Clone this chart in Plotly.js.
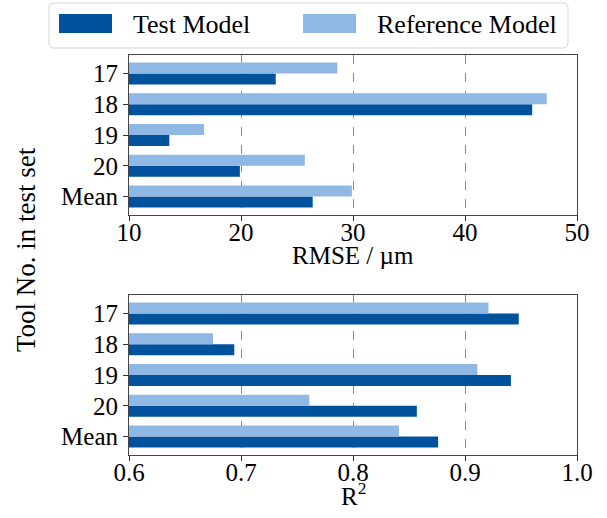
<!DOCTYPE html>
<html>
<head>
<meta charset="utf-8">
<script src="https://cdn.plot.ly/plotly-3.0.1.min.js"></script>
<style>html,body{margin:0;padding:0;background:#fff;}#chart{width:607px;height:518px;}</style>
</head>
<body>
<div id="chart"></div>
<script>
// ---- data ----
const categories = ['17', '18', '19', '20', 'Mean'];
const seriesNames = ['Test Model', 'Reference Model'];
const rmseTest = [23.1, 46.0, 13.6, 19.9, 26.4];
const rmseRef  = [28.6, 47.3, 16.7, 25.7, 29.9];
const r2Test   = [0.948, 0.694, 0.941, 0.857, 0.876];
const r2Ref    = [0.921, 0.675, 0.911, 0.761, 0.841];
const rmseTicks = [10, 20, 30, 40, 50];
const r2Ticks = [0.6, 0.7, 0.8, 0.9, 1.0];

// ---- style ----
const FONT = 'Liberation Serif, Times New Roman, serif';
const FS = 25;
const C_TEST = '#00529c';
const C_REF = '#8fb9e4';
const W = 607, H = 518;
const M = {l: 129, r: 30, t: 55, b: 63};
const PW = W - M.l - M.r, PH = H - M.t - M.b;
const px2x = p => (p - M.l) / PW;
const py2y = p => (H - M.b - p) / PH;

const catOrder = categories.slice().reverse();

function bar(x, name, color, xa, ya) {
  return {type: 'bar', orientation: 'h', x: x, y: categories, name: name,
    marker: {color: color, line: {width: 0}}, xaxis: xa, yaxis: ya, showlegend: false,
    hoverinfo: 'x+y'};
}

const data = [
  bar(rmseTest, seriesNames[0], C_TEST, 'x', 'y'),
  bar(rmseRef, seriesNames[1], C_REF, 'x', 'y'),
  bar(r2Test, seriesNames[0], C_TEST, 'x2', 'y2'),
  bar(r2Ref, seriesNames[1], C_REF, 'x2', 'y2')
];

const tickfont = {family: FONT, size: FS, color: '#000'};
function xax(range, ticks, anchor, fmt) {
  return {range: range, tickvals: ticks, tickformat: fmt, anchor: anchor,
    ticks: 'outside', ticklen: 5, tickwidth: 1, tickcolor: '#333',
    ticklabelstandoff: -10,
    showline: true, linecolor: '#444', linewidth: 1, mirror: true,
    showgrid: true, gridcolor: '#8a8a8a', griddash: 'dash', gridwidth: 1,
    zeroline: false, tickfont: tickfont, fixedrange: true};
}
function yax(domain, anchor) {
  return {type: 'category', categoryorder: 'array', categoryarray: catOrder,
    range: [-0.6, 4.6], domain: domain, anchor: anchor,
    ticks: 'outside', ticklen: 5, tickwidth: 1, tickcolor: '#333',
    showline: true, linecolor: '#444', linewidth: 1, mirror: true,
    showgrid: false, zeroline: false, tickfont: tickfont, fixedrange: true};
}

function roundRect(x0, y0, x1, y1, r) {
  const X = px2x, Y = py2y;
  return 'M' + X(x0 + r) + ',' + Y(y0) +
    ' L' + X(x1 - r) + ',' + Y(y0) +
    ' Q' + X(x1) + ',' + Y(y0) + ' ' + X(x1) + ',' + Y(y0 + r) +
    ' L' + X(x1) + ',' + Y(y1 - r) +
    ' Q' + X(x1) + ',' + Y(y1) + ' ' + X(x1 - r) + ',' + Y(y1) +
    ' L' + X(x0 + r) + ',' + Y(y1) +
    ' Q' + X(x0) + ',' + Y(y1) + ' ' + X(x0) + ',' + Y(y1 - r) +
    ' L' + X(x0) + ',' + Y(y0 + r) +
    ' Q' + X(x0) + ',' + Y(y0) + ' ' + X(x0 + r) + ',' + Y(y0) + ' Z';
}
function rectPx(x0, y0, x1, y1, color) {
  return {type: 'rect', xref: 'paper', yref: 'paper', x0: px2x(x0), x1: px2x(x1),
    y0: py2y(y1), y1: py2y(y0), fillcolor: color, line: {width: 0}, layer: 'above'};
}

const shapes = [
  {type: 'path', xref: 'paper', yref: 'paper', path: roundRect(49, 3, 568, 48, 5),
    line: {color: '#d4d4d4', width: 1}, fillcolor: 'rgba(255,255,255,0.9)', layer: 'above'},
  rectPx(59, 14, 112, 33, C_TEST),
  rectPx(303, 14, 356, 33, C_REF)
];

const annFont = {family: FONT, size: FS, color: '#000'};
const legFont = {family: FONT, size: 26, color: '#000'};
const annotations = [
  {text: seriesNames[0], xref: 'paper', yref: 'paper', x: px2x(131), y: py2y(24),
    xanchor: 'left', yanchor: 'middle', showarrow: false, font: legFont},
  {text: seriesNames[1], xref: 'paper', yref: 'paper', x: px2x(375), y: py2y(24),
    xanchor: 'left', yanchor: 'middle', showarrow: false, font: legFont},
  {text: 'RMSE / µm', xref: 'paper', yref: 'paper', x: 0.5, y: py2y(255),
    xanchor: 'center', yanchor: 'middle', showarrow: false, font: annFont},
  {text: 'R<sup>2</sup>', xref: 'paper', yref: 'paper', x: 0.5, y: py2y(494),
    xanchor: 'center', yanchor: 'middle', showarrow: false, font: annFont},
  {text: 'Tool No. in test set', xref: 'paper', yref: 'paper', x: px2x(26), y: py2y(250),
    xanchor: 'center', yanchor: 'middle', textangle: -90, showarrow: false,
    font: {family: FONT, size: 27, color: '#000'}}
];

const layout = {
  width: W, height: H,
  margin: {l: M.l, r: M.r, t: M.t, b: M.b, pad: 0},
  paper_bgcolor: '#fff', plot_bgcolor: '#fff',
  barmode: 'group', bargap: 0.285, bargroupgap: 0,
  showlegend: false,
  font: {family: FONT, size: FS, color: '#000'},
  xaxis: xax([10, 50], rmseTicks, 'y', 'd'),
  yaxis: yax([0.6, 1], 'x'),
  xaxis2: xax([0.6, 1.0], r2Ticks, 'y2', '.1f'),
  yaxis2: yax([0, 0.4], 'x2'),
  shapes: shapes,
  annotations: annotations
};

Plotly.newPlot('chart', data, layout, {displayModeBar: false, staticPlot: true});
</script>
</body>
</html>
